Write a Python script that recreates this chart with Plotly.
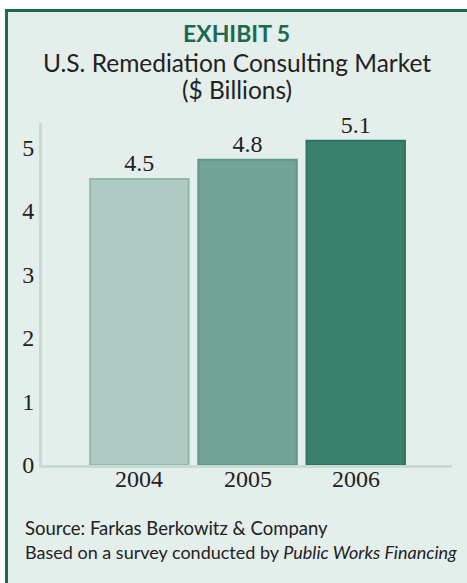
import plotly.graph_objects as go

# Market size by year, $ billions
years = ["2004", "2005", "2006"]
values = [4.5, 4.8, 5.1]
bar_fills = ["#afcac2", "#72a597", "#3a806d"]
bar_edges = ["#93b9ad", "#5b978a", "#2e7561"]
y_ticks = [0, 1, 2, 3, 4, 5]

W, H = 467, 583
L, R, T, B = 42, 15, 123, 118

def px(x):
    return (x - L) / (W - L - R)

def py(y):
    return (H - B - y) / (H - T - B)

panel = "#e4eeeb"
frame = "#1b6a4f"
ink = "#222222"
sans = "Lato"
serif = "Liberation Serif"

fig = go.Figure(
    go.Bar(
        x=years,
        y=values,
        marker=dict(color=bar_fills, line=dict(color=bar_edges, width=2)),
        text=[f"{v:.1f}" for v in values],
        textposition="outside",
        textfont=dict(family=serif, size=24, color=ink),
        cliponaxis=False,
        width=0.91,
    )
)

shapes = [
    # white surround outside the framed panel
    dict(type="rect", xref="paper", yref="paper", x0=px(-5), x1=px(W + 5), y0=py(9), y1=py(-5),
         fillcolor="white", line_width=0, layer="below"),
    dict(type="rect", xref="paper", yref="paper", x0=px(-5), x1=px(5), y0=py(H + 5), y1=py(-5),
         fillcolor="white", line_width=0, layer="below"),
    # frame lines
    dict(type="line", xref="paper", yref="paper", x0=px(5), x1=px(W + 5), y0=py(10.5), y1=py(10.5),
         line=dict(color=frame, width=3), layer="below"),
    dict(type="line", xref="paper", yref="paper", x0=px(6.5), x1=px(6.5), y0=py(9), y1=py(H + 5),
         line=dict(color=frame, width=3), layer="below"),
]

def note(text, x, y, size, color=ink, xanchor="center"):
    return dict(text=text, x=px(x), y=py(y), xref="paper", yref="paper",
                xanchor=xanchor, yanchor="middle", showarrow=False,
                font=dict(family=sans, size=size, color=color))

annotations = [
    note("<b>EXHIBIT 5</b>", 236, 33, 23, frame),
    note("U.S. Remediation Consulting Market", 237, 62, 24.5),
    note("($ Billions)", 237, 89, 24.5),
    note("Source: Farkas Berkowitz & Company", 23, 528, 18.5, xanchor="left"),
    note("Based on a survey conducted by <i>Public Works Financing</i>", 23, 552, 18, xanchor="left"),
]

# year labels under the bars, set a little closer to the axis than plotly's default
for i, yr in enumerate(years):
    annotations.append(dict(text=yr, x=i, y=0, xref="x", yref="paper", xanchor="center",
                            yanchor="top", yshift=1, showarrow=False,
                            font=dict(family=serif, size=24, color=ink)))

fig.update_layout(
    width=W,
    height=H,
    margin=dict(l=L, r=R, t=T, b=B, pad=0),
    paper_bgcolor=panel,
    plot_bgcolor=panel,
    showlegend=False,
    shapes=shapes,
    annotations=annotations,
    xaxis=dict(
        type="category",
        range=[-0.9, 2.89],
        showgrid=False,
        showline=True,
        linecolor="#c6dbd4",
        linewidth=3,
        ticks="",
        showticklabels=False,
        fixedrange=True,
    ),
    yaxis=dict(
        range=[0, 5.38],
        tickvals=y_ticks,
        showgrid=False,
        zeroline=False,
        showline=True,
        linecolor="#c6dbd4",
        linewidth=3,
        ticks="",
        tickfont=dict(family=serif, size=24, color=ink),
        fixedrange=True,
    ),
)

fig.write_html("out.html", config={"displayModeBar": False})
